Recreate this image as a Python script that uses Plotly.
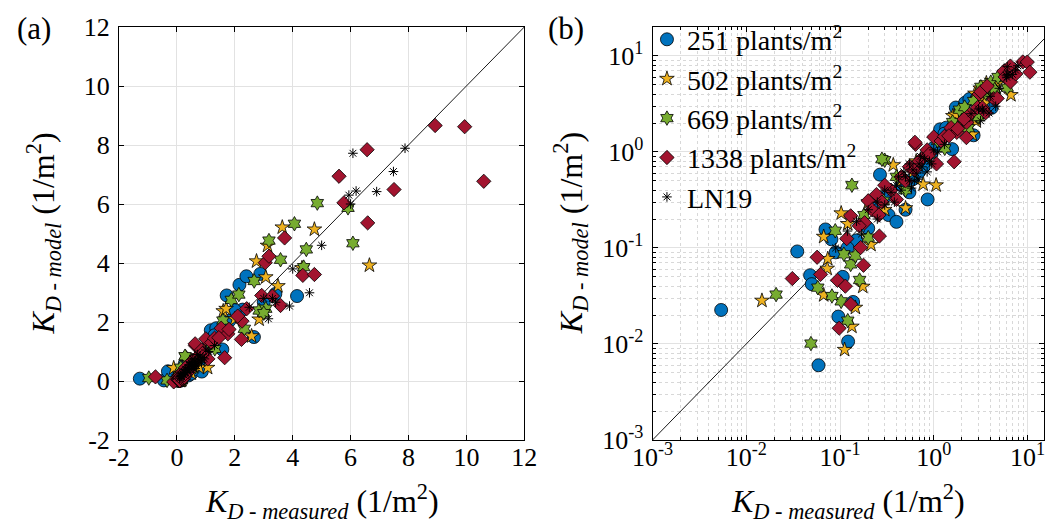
import plotly.graph_objects as go

# ---------------- data (K_D measured, K_D model) ----------------
d251_x = [-1.28, -0.45, -0.31, 0.0054, 0.059, 0.122, 0.096, 0.138, 0.035, 0.048, 0.050, 0.107,
          0.070, 0.081, 0.090, 0.150, 0.20, 0.267, 0.33, 0.40, 0.50, 0.86, 0.30, 0.45, 0.55,
          0.60, 0.70, 0.78, 0.95, 1.00, 1.17, 1.36, 1.57, 1.82, 1.72, 2.27, 2.16, 2.40, 2.88,
          2.66, 4.15, 3.00, 1.30, 2.00, 3.40, 0.25, 0.12]
d251_y = [0.08, 0.02, 0.33, 0.0226, 0.006, 0.0106, 0.0193, 0.0274, 0.092, 0.052, 0.042, 0.050,
          0.156, 0.123, 0.090, 0.120, 0.16, 0.58, 0.22, 0.187, 0.25, 0.32, 0.34, 0.45, 0.38,
          0.52, 0.62, 0.70, 0.98, 1.10, 1.72, 1.79, 1.07, 2.05, 2.90, 2.42, 3.26, 3.55, 3.63,
          1.49, 2.88, 2.67, 1.55, 2.40, 2.95, 0.30, 0.10]

d502_x = [-0.11, 0.0147, 0.112, 0.134, 0.146, 0.175, 0.067, 0.073, 0.074, 0.067, 0.103, 0.121,
          0.214, 0.37, 1.06, 0.77, 0.50, 0.30, 0.45, 0.60, 0.85, 1.20, 1.60, 1.70, 2.58, 2.84,
          2.75, 3.07, 3.13, 3.49, 3.64, 4.32, 4.75, 6.65, 2.00, 0.20, 0.65]
d502_y = [0.44, 0.0283, 0.0087, 0.0152, 0.0239, 0.0396, 0.0323, 0.061, 0.077, 0.131, 0.230, 0.178,
          0.108, 0.73, 0.45, 0.46, 0.26, 0.25, 0.50, 0.62, 0.90, 1.30, 2.37, 2.45, 1.52, 2.09,
          4.06, 3.52, 4.59, 3.22, 5.21, 3.83, 5.14, 3.92, 2.10, 0.30, 0.80]

d669_x = [-0.97, -0.34, 0.0208, 0.049, 0.121, 0.103, 0.082, 0.058, 0.162, 0.130, 0.146, 0.110,
          0.089, 0.134, 0.30, 0.20, 0.29, 0.28, 0.50, 0.65, 0.90, 1.31, 1.59, 1.88, 2.14, 2.33,
          2.67, 2.84, 3.07, 3.18, 3.58, 4.06, 4.38, 4.47, 4.85, 5.91, 6.08, 0.40, 1.10, 0.18, 3.00]
d669_y = [0.10, 0.02, 0.0327, 0.0101, 0.0175, 0.0278, 0.0316, 0.0386, 0.0464, 0.0674, 0.083, 0.086,
          0.151, 0.45, 0.82, 0.128, 0.31, 0.84, 0.40, 0.70, 0.95, 1.09, 2.05, 2.75, 2.93, 1.77,
          3.39, 2.39, 2.45, 4.76, 4.11, 5.33, 3.86, 4.46, 6.03, 5.87, 4.67, 0.55, 1.30, 0.22, 2.30]

d1338_x = [-0.74, -0.11, 0.031, 0.057, 0.062, 0.094, 0.114, 0.130, 0.098, 0.178, 0.166, 0.130,
           0.118, 0.183, 0.263, 0.20, 0.245, 0.64, 1.07, 1.00, 0.63, 1.65, 1.53, 1.76, 2.23,
           2.25, 2.41, 2.93, 3.30, 3.58, 3.05, 3.18, 3.72, 4.35, 4.75, 5.60, 5.77, 6.57, 6.59,
           7.50, 8.92, 9.94, 10.6, 0.35, 0.45, 0.55, 0.75, 0.85, 0.40, 0.30, 1.20,
           0.22, 0.28, 0.50, 0.62, 0.70, 0.90, 1.30, 1.80, 0.16, 0.26, 2.10, 1.45]
d1338_y = [0.14, -0.03, 0.048, 0.080, 0.053, 0.046, 0.040, 0.026, 0.0146, 0.066, 0.101, 0.216,
           0.125, 0.183, 0.133, 0.31, 0.36, 1.20, 0.75, 1.43, 1.26, 0.79, 1.79, 1.60, 1.41,
           2.03, 2.45, 2.90, 2.88, 2.56, 4.01, 4.23, 4.85, 3.58, 3.61, 6.94, 6.04, 7.84, 5.36,
           6.49, 8.66, 8.62, 6.77, 0.40, 0.55, 0.70, 0.85, 1.05, 0.32, 0.45, 1.30,
           0.25, 0.30, 0.50, 0.65, 0.80, 0.95, 1.45, 1.75, 0.17, 0.22, 2.20, 1.47]

ln19_x = [6.08, 7.88, 7.48, 6.90, 5.94, 6.19, 4.58, 3.89, 3.41, 3.16, 3.30, 0.20, 0.25, 0.30,
          0.35, 0.40, 0.45, 0.50, 0.55, 0.60, 0.65, 0.70, 0.75, 0.80, 0.90, 1.00, 1.10, 0.38,
          0.48, 0.58, 0.68, 0.85, 0.30, 0.15, 0.12, 0.09, 0.42, 1.30, 2.50, 3.00, 4.00, 5.00,
          6.00, 0.17, 0.25, 0.55, 0.62, 0.72, 0.95]
ln19_y = [7.72, 7.89, 7.10, 6.42, 6.30, 6.44, 2.99, 2.54, 2.67, 2.11, 2.80, 0.25, 0.30, 0.28,
          0.38, 0.45, 0.40, 0.55, 0.50, 0.65, 0.60, 0.75, 0.70, 0.85, 0.80, 1.05, 1.00, 0.30,
          0.62, 0.42, 0.52, 0.62, 0.40, 0.19, 0.15, 0.10, 0.55, 1.20, 2.50, 2.80, 3.80, 4.60,
          6.00, 0.14, 0.20, 0.75, 0.50, 0.90, 0.75]

diag = [0.001, 20]

series_names = ["251 plants/m<sup>2</sup>", "502 plants/m<sup>2</sup>",
                "669 plants/m<sup>2</sup>", "1338 plants/m<sup>2</sup>", "LN19"]

lin_ticks = [-2, 0, 2, 4, 6, 8, 10, 12]
log_ticks = [1e-3, 1e-2, 1e-1, 1e0, 1e1]
log_text = ["10<sup>-3</sup>", "10<sup>-2</sup>", "10<sup>-1</sup>", "10<sup>0</sup>", "10<sup>1</sup>"]
log_minor = [m * 10.0 ** e for e in range(-3, 2) for m in range(2, 10)]

FONT = "Liberation Serif"

styles = [
    dict(symbol="circle", size=13, color="#0072BD", line=dict(color="black", width=0.8)),
    dict(symbol="star", size=11, color="#EDB120", line=dict(color="black", width=0.8)),
    dict(symbol="hexagram", size=11, color="#77AC30", line=dict(color="black", width=0.8)),
    dict(symbol="diamond", size=11, color="#A2142F", line=dict(color="black", width=0.8)),
    dict(symbol="asterisk-open", size=8, color="black", line=dict(color="black", width=1)),
]
data = [(d251_x, d251_y), (d502_x, d502_y), (d669_x, d669_y), (d1338_x, d1338_y), (ln19_x, ln19_y)]

fig = go.Figure()
for panel, (xa, ya) in enumerate([("x", "y"), ("x2", "y2")]):
    fig.add_trace(go.Scatter(x=diag, y=diag, mode="lines", line=dict(color="black", width=0.9),
                             showlegend=False, hoverinfo="skip", xaxis=xa, yaxis=ya))
    for name, (xs, ys), st in zip(series_names, data, styles):
        if panel == 1:
            pts = [(a, b) for a, b in zip(xs, ys) if a > 0 and b > 0]
            xs = [p[0] for p in pts]
            ys = [p[1] for p in pts]
        fig.add_trace(go.Scatter(x=xs, y=ys, mode="markers", name=name, marker=st,
                                 legendgroup=name, showlegend=(panel == 1),
                                 xaxis=xa, yaxis=ya))

axis_common = dict(showline=True, linecolor="black", linewidth=1, mirror="allticks",
                   ticks="inside", ticklen=5, tickcolor="black", zeroline=False,
                   showgrid=True, gridcolor="#e2e2e2", gridwidth=1,
                   tickfont=dict(family=FONT, size=26, color="black"))

L = 111
R = 1049
W = R - L
d1 = [0, (522 - L) / W]
d2 = [(652 - L) / W, 1]

minor_cfg = dict(tickmode="array", tickvals=log_minor, ticks="inside", ticklen=3,
                 tickcolor="black", showgrid=True, gridcolor="#d8d8d8", griddash="dot",
                 gridwidth=1)

fig.update_layout(
    width=1054, height=530,
    margin=dict(l=L, r=1054 - R, t=18, b=98),
    paper_bgcolor="white", plot_bgcolor="white",
    font=dict(family=FONT, size=26, color="black"),
    xaxis=dict(domain=d1, range=[-2, 12], tickmode="array", tickvals=lin_ticks,
               ticktext=[str(t) for t in lin_ticks], anchor="y", ticklabelstandoff=-6,
               **axis_common),
    yaxis=dict(domain=[0, 1], range=[-2, 12], tickmode="array", tickvals=lin_ticks,
               ticktext=[str(t) for t in lin_ticks], anchor="x", ticklabelstandoff=3,
               **axis_common),
    xaxis2=dict(domain=d2, type="log", range=[-3, 1.176], tickmode="array", tickvals=log_ticks,
                ticktext=log_text, anchor="y2", minor=minor_cfg, ticklabelstandoff=-6,
                **axis_common),
    yaxis2=dict(domain=[0, 1], type="log", range=[-3, 1.301], tickmode="array", tickvals=log_ticks,
                ticktext=log_text, anchor="x2", minor=minor_cfg, ticklabelstandoff=3,
                **axis_common),
    legend=dict(x=d2[0] - 0.006, y=1.03, xanchor="left", yanchor="top",
                bgcolor="rgba(0,0,0,0)", font=dict(family=FONT, size=28), tracegroupgap=0),
    showlegend=True,
)

xt = "<i>K</i><sub><i>D - measured</i></sub> (1/m<sup>2</sup>)"
yt = "<i>K</i><sub><i>D - model</i></sub> (1/m<sup>2</sup>)"
H = 530 - 18 - 98


def px2paper(px, py):
    return (px - L) / W, 1 - (py - 18) / H


ann = []
for d in (d1, d2):
    cx = (d[0] + d[1]) / 2
    ann.append(dict(text=xt, x=cx, y=px2paper(0, 494)[1], textangle=0, size=32))
for px in (34, 569):
    xx, yy = px2paper(px, 225)
    ann.append(dict(text=yt, x=xx, y=yy, textangle=-90, size=32))
for txt, px in (("(a)", 25), ("(b)", 564)):
    xx, yy = px2paper(px, 20)
    ann.append(dict(text=txt, x=xx, y=yy, textangle=0, size=31))

fig.update_layout(annotations=[
    dict(text=a["text"], x=a["x"], y=a["y"], xref="paper", yref="paper", xanchor="center",
         yanchor="middle", showarrow=False, textangle=a["textangle"],
         font=dict(family=FONT, size=a["size"], color="black"))
    for a in ann
])

fig.write_html("out.html")
